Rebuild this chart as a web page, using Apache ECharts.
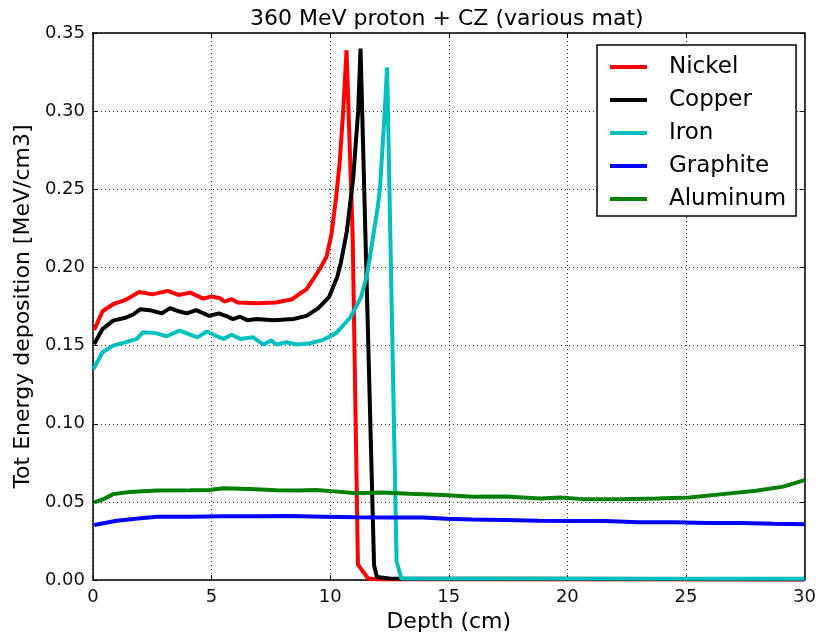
<!DOCTYPE html>
<html>
<head>
<meta charset="utf-8">
<script src="https://cdn.jsdelivr.net/npm/echarts@6/dist/echarts.min.js"></script>
<style>
html,body{margin:0;padding:0;background:#fff;}
#chart{width:819px;height:638px;}
</style>
</head>
<body>
<div id="chart"></div>
<script>
var seriesNames = ["Nickel", "Copper", "Iron", "Graphite", "Aluminum"];
var xTicks = [0, 5, 10, 15, 20, 25, 30];
var yTicks = [0, 0.05, 0.10, 0.15, 0.20, 0.25, 0.30, 0.35];

var nickelDepth = [0.05,0.4,0.85,1.4,1.95,2.5,3.15,3.6,4.1,4.65,5.0,5.35,5.55,5.85,6.1,6.9,7.7,8.4,8.7,9.0,9.35,9.6,9.85,10.05,10.25,10.4,10.55,10.69,10.95,11.17,11.6,12.0,30];
var nickelVal   = [0.160,0.172,0.1765,0.1795,0.1843,0.1828,0.1850,0.1824,0.1839,0.1801,0.1814,0.1803,0.1782,0.1797,0.1776,0.1771,0.1776,0.1797,0.183,0.186,0.194,0.200,0.207,0.221,0.245,0.267,0.300,0.339,0.219,0.010,0.001,0.0005,0.0004];

var copperDepth = [0.05,0.4,0.85,1.4,1.7,2.0,2.4,2.9,3.25,3.65,3.95,4.35,4.9,5.3,5.6,5.9,6.2,6.5,6.9,7.6,8.45,9.0,9.5,9.95,10.3,10.45,10.7,10.97,11.18,11.28,11.85,11.97,12.5,30];
var copperVal   = [0.151,0.1606,0.166,0.168,0.170,0.1733,0.1727,0.1706,0.174,0.1718,0.1706,0.1727,0.169,0.1706,0.169,0.167,0.1685,0.1663,0.167,0.1663,0.167,0.169,0.174,0.181,0.194,0.203,0.223,0.257,0.300,0.340,0.0095,0.002,0.001,0.0005];

var ironDepth = [0.02,0.4,0.85,1.4,1.85,2.1,2.65,3.1,3.65,4.1,4.4,4.8,5.25,5.5,5.85,6.2,6.75,7.2,7.5,7.75,8.15,8.6,9.15,9.7,10.25,10.85,11.3,11.55,11.75,12.0,12.1,12.3,12.4,12.8,13.0,30];
var ironVal   = [0.135,0.1458,0.150,0.1522,0.1543,0.1585,0.158,0.156,0.1596,0.157,0.1553,0.159,0.1558,0.1543,0.157,0.1543,0.1553,0.1507,0.1533,0.1507,0.1522,0.1507,0.1515,0.1537,0.158,0.168,0.181,0.195,0.214,0.238,0.2505,0.300,0.328,0.012,0.001,0.0008];

var graphiteDepth = [0.05,1.0,2.0,2.7,4.1,5.5,6.9,8.3,9.7,11.1,12.5,13.9,14.9,16.0,17.4,18.8,20.2,21.6,23.0,24.5,25.9,27.3,28.7,30];
var graphiteVal   = [0.0353,0.038,0.0395,0.0406,0.0406,0.0408,0.0408,0.041,0.0406,0.0402,0.040,0.040,0.0392,0.0387,0.0385,0.038,0.0378,0.0378,0.037,0.037,0.0365,0.0365,0.036,0.0358];

var aluminumDepth = [0.05,0.45,0.85,1.55,2.7,4.1,4.9,5.5,6.6,7.75,8.6,9.4,10.3,11.1,12.2,13.35,14.75,16.0,17.4,18.85,19.7,20.65,22.35,23.75,25.15,26.55,27.95,29.1,30];
var aluminumVal   = [0.0497,0.0518,0.055,0.0564,0.0573,0.0575,0.0577,0.0588,0.0583,0.0575,0.0573,0.0577,0.0566,0.0556,0.056,0.0552,0.0545,0.0533,0.0535,0.0522,0.0528,0.0518,0.0518,0.0522,0.0528,0.055,0.0571,0.0598,0.064];

var colors = ["#ff0000", "#000000", "#00bfbf", "#0000ff", "#008000"];
var depths = [nickelDepth, copperDepth, ironDepth, graphiteDepth, aluminumDepth];
var vals = [nickelVal, copperVal, ironVal, graphiteVal, aluminumVal];

function pairs(xs, ys) { return xs.map(function (x, i) { return [x, ys[i]]; }); }

var FONT = "DejaVu Sans";
var xMin = xTicks[0], xMax = xTicks[xTicks.length - 1];
var yMin = yTicks[0], yMax = yTicks[yTicks.length - 1];

var chart = echarts.init(document.getElementById('chart'), null, {renderer: 'canvas'});

function xAx(main) {
  return {
    type: 'value', min: xMin, max: xMax, interval: 5,
    position: main ? 'bottom' : 'top',
    name: main ? 'Depth (cm)' : '', nameLocation: 'middle', nameGap: 30,
    nameTextStyle: {fontFamily: FONT, fontSize: 22, color: '#000'},
    axisLine: {show: true, onZero: false, lineStyle: {color: '#000', width: 1.5}},
    axisTick: {show: true, inside: true, length: 5, lineStyle: {color: '#000'}},
    axisLabel: {show: main, fontFamily: FONT, fontSize: 18, color: '#111', margin: 8},
    splitLine: {show: main, lineStyle: {color: '#333', type: [1, 3], width: 1}}
  };
}
function yAx(main) {
  return {
    type: 'value', min: yMin, max: yMax, interval: 0.05,
    position: main ? 'left' : 'right',
    name: main ? 'Tot Energy deposition [MeV/cm3]' : '', nameLocation: 'middle', nameGap: 50,
    nameTextStyle: {fontFamily: FONT, fontSize: 22, color: '#000'},
    axisLine: {show: true, onZero: false, lineStyle: {color: '#000', width: 1.5}},
    axisTick: {show: true, inside: true, length: 5, lineStyle: {color: '#000'}},
    axisLabel: {show: main, fontFamily: FONT, fontSize: 18, color: '#111', margin: 8,
      formatter: function (v) { return v.toFixed(2); }},
    splitLine: {show: main, lineStyle: {color: '#333', type: [1, 3], width: 1}}
  };
}

var series = seriesNames.map(function (n, i) {
  return {
    name: n, type: 'line', xAxisIndex: 0, yAxisIndex: 0,
    data: pairs(depths[i], vals[i]),
    showSymbol: false, symbol: 'none',
    lineStyle: {color: colors[i], width: 4},
    itemStyle: {color: colors[i]},
    animation: false, z: 2 + i
  };
});

chart.setOption({
  animation: false,
  backgroundColor: '#fff',
  title: {
    text: '360 MeV proton + CZ (various mat)',
    left: 245, top: 3,
    textStyle: {fontFamily: FONT, fontSize: 22, fontWeight: 'normal', color: '#000'}
  },
  grid: {left: 93, right: 14, top: 33, bottom: 53, containLabel: false},
  xAxis: [xAx(true), xAx(false)],
  yAxis: [yAx(true), yAx(false)],
  legend: {
    orient: 'vertical', left: 597, top: 45,
    data: seriesNames,
    icon: 'rect', itemWidth: 37, itemHeight: 4, itemGap: 9,
    padding: [10, 10, 5, 13],
    borderColor: '#000', borderWidth: 1.5, backgroundColor: '#fff',
    textStyle: {fontFamily: FONT, fontSize: 23, color: '#000', lineHeight: 24, padding: [0, 0, 0, 17]},
    z: 20
  },
  series: series
});
</script>
</body>
</html>
